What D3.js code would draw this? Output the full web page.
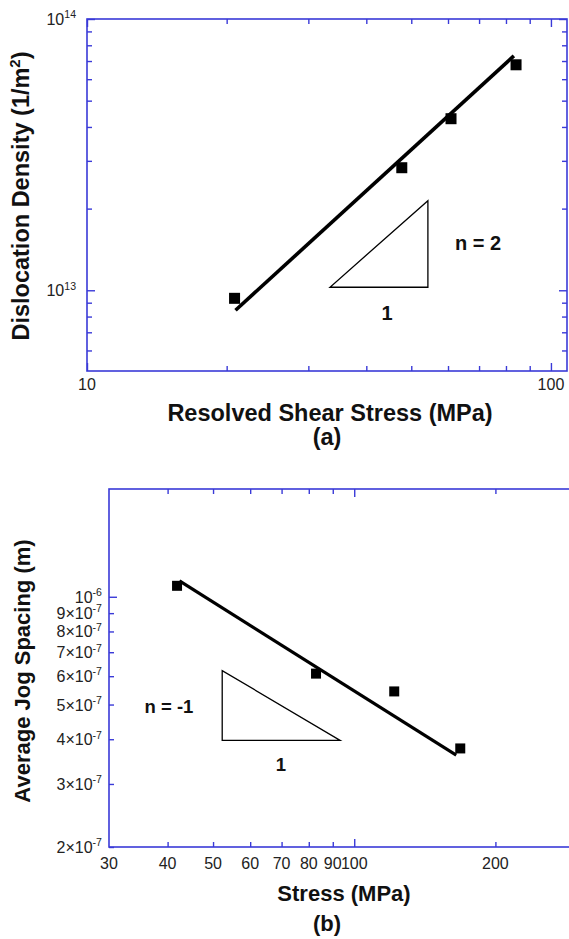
<!DOCTYPE html>
<html><head><meta charset="utf-8">
<script src="https://cdn.jsdelivr.net/npm/d3@7"></script>
<style>
html,body{margin:0;padding:0;background:#fff;}
svg{display:block;font-family:"Liberation Sans",Arial,Helvetica,sans-serif;}
</style></head><body>
<svg id="fig" width="569" height="939"></svg>
<script>
// ---- Panel (a): dislocation density vs resolved shear stress ----
const stressA = [20.8, 47.7, 60.9, 84.1];
const densityA = [9.34e12, 2.83e13, 4.29e13, 6.78e13];
const fitStressA = [20.9, 83.2];
const fitDensityA = [8.44e12, 7.31e13];
const triStressA = [33.4, 54.3];
const triDensityA = [1.026e13, 2.14e13];
const xMajorA = [10, 100];
const xMinorA = [20, 30, 40, 50, 60, 70, 80, 90];
const yMajorA = [1e13, 1e14];
const yMinorA = [6e12, 7e12, 8e12, 9e12, 2e13, 3e13, 4e13, 5e13, 6e13, 7e13, 8e13, 9e13];
const xLabelsA = ["10", "100"];
const yLabelsA = [["10", "13"], ["10", "14"]];

// ---- Panel (b): average jog spacing vs stress ----
const stressB = [41.9, 82.9, 121.7, 168.3];
const spacingB = [1.073e-6, 6.10e-7, 5.44e-7, 3.77e-7];
const fitStressB = [42.4, 165];
const fitSpacingB = [1.108e-6, 3.61e-7];
const triStressB = [52.3, 93.3];
const triSpacingB = [3.97e-7, 6.22e-7];
const xMajorB = [100];
const xMinorB = [40, 50, 60, 70, 80, 90, 200];
const xLabelB = [30, 40, 50, 60, 70, 80, 90, 100, 200];
const yMajorB = [1e-6];
const yMinorB = [2e-7, 3e-7, 4e-7, 5e-7, 6e-7, 7e-7, 8e-7, 9e-7];
const yLabelB = [
  [2e-7, "2\u00d710", "-7"], [3e-7, "3\u00d710", "-7"], [4e-7, "4\u00d710", "-7"],
  [5e-7, "5\u00d710", "-7"], [6e-7, "6\u00d710", "-7"], [7e-7, "7\u00d710", "-7"],
  [8e-7, "8\u00d710", "-7"], [9e-7, "9\u00d710", "-7"], [1e-6, "10", "-6"]
];

const AXIS = "#3a3ad8";
const svg = d3.select("#fig");

function frame(g, x, y, xMaj, xMin, yMaj, yMin) {
  const [x0, x1] = x.range(), [y0, y1] = y.range();
  const put = (axis, tx, ty) => {
    const a = g.append("g").attr("transform", `translate(${tx},${ty})`).call(axis);
    a.select(".domain").remove();
    a.selectAll("line").attr("stroke", AXIS).attr("stroke-width", 1.4);
    a.selectAll("text").remove();
  };
  [[xMaj, 8], [xMin, 5]].forEach(([v, s]) => {
    put(d3.axisBottom(x).tickValues(v).tickSize(-s), 0, y0);
    put(d3.axisTop(x).tickValues(v).tickSize(-s), 0, y1);
  });
  [[yMaj, 8], [yMin, 5]].forEach(([v, s]) => {
    put(d3.axisLeft(y).tickValues(v).tickSize(-s), x0, 0);
    put(d3.axisRight(y).tickValues(v).tickSize(-s), x1, 0);
  });
  g.append("rect").attr("x", x0).attr("y", y1).attr("width", x1 - x0).attr("height", y0 - y1)
    .attr("fill", "none").attr("stroke", AXIS).attr("stroke-width", 1.6);
}

function supLabel(g, xx, yy, base, sup, anchor, size) {
  const t = g.append("text").attr("x", xx).attr("y", yy).attr("text-anchor", anchor)
    .attr("font-size", size).attr("fill", "#222");
  t.append("tspan").text(base);
  t.append("tspan").attr("font-size", size * 0.66).attr("dy", -size * 0.42).text(sup);
}

function bold(g, xx, yy, size, txt) {
  return g.append("text").attr("x", xx).attr("y", yy).attr("text-anchor", "middle")
    .attr("font-size", size).attr("font-weight", "bold").attr("fill", "#111").text(txt);
}

// ---------- Panel (a) ----------
{
  const x = d3.scaleLog().domain([10, 108.3]).range([87, 567]);
  const y = d3.scaleLog().domain([5.04e12, 1e14]).range([371, 19]);
  const g = svg.append("g");
  frame(g, x, y, xMajorA, xMinorA, yMajorA, yMinorA);

  g.append("line")
    .attr("x1", x(fitStressA[0])).attr("y1", y(fitDensityA[0]))
    .attr("x2", x(fitStressA[1])).attr("y2", y(fitDensityA[1]))
    .attr("stroke", "#000").attr("stroke-width", 3.6);

  g.selectAll("rect.pt").data(stressA).join("rect").attr("class", "pt")
    .attr("x", (d) => x(d) - 5.5).attr("y", (d, i) => y(densityA[i]) - 5.5)
    .attr("width", 11).attr("height", 11).attr("fill", "#000");

  const tri = [[triStressA[0], triDensityA[0]], [triStressA[1], triDensityA[0]], [triStressA[1], triDensityA[1]]];
  g.append("path").attr("d", d3.line().x((d) => x(d[0])).y((d) => y(d[1]))(tri) + "Z")
    .attr("fill", "none").attr("stroke", "#000").attr("stroke-width", 1.3);

  bold(g, 478, 250, 20, "n = 2");
  bold(g, 387, 320, 20, "1");

  xMajorA.forEach((v, i) => {
    g.append("text").attr("x", x(v)).attr("y", 390).attr("text-anchor", "middle")
      .attr("font-size", 16).attr("fill", "#222").text(xLabelsA[i]);
  });
  yMajorA.forEach((v, i) => supLabel(g, 76, y(v) + 6, yLabelsA[i][0], yLabelsA[i][1], "end", 16));

  bold(g, 330, 421, 23.5, "Resolved Shear Stress (MPa)");
  bold(g, 327, 445, 23.5, "(a)");

  const yt = g.append("text").attr("transform", "translate(29,196) rotate(-90)")
    .attr("text-anchor", "middle").attr("font-size", 23.5).attr("font-weight", "bold").attr("fill", "#111");
  yt.append("tspan").text("Dislocation Density (1/m");
  yt.append("tspan").attr("font-size", 15).attr("dy", -9).text("2");
  yt.append("tspan").attr("dy", 9).text(")");
}

// ---------- Panel (b) ----------
{
  const x = d3.scaleLog().domain([30, 300]).range([109, 578]);
  const y = d3.scaleLog().domain([2e-7, 2e-6]).range([847, 489]);
  const g = svg.append("g");
  frame(g, x, y, xMajorB, xMinorB, yMajorB, yMinorB);

  g.append("line")
    .attr("x1", x(fitStressB[0])).attr("y1", y(fitSpacingB[0]))
    .attr("x2", x(fitStressB[1])).attr("y2", y(fitSpacingB[1]))
    .attr("stroke", "#000").attr("stroke-width", 3.2);

  g.selectAll("rect.pt").data(stressB).join("rect").attr("class", "pt")
    .attr("x", (d) => x(d) - 5).attr("y", (d, i) => y(spacingB[i]) - 5)
    .attr("width", 10).attr("height", 10).attr("fill", "#000");

  const tri = [[triStressB[0], triSpacingB[1]], [triStressB[0], triSpacingB[0]], [triStressB[1], triSpacingB[0]]];
  g.append("path").attr("d", d3.line().x((d) => x(d[0])).y((d) => y(d[1]))(tri) + "Z")
    .attr("fill", "none").attr("stroke", "#000").attr("stroke-width", 1.3);

  bold(g, 169, 713, 18.5, "n = -1");
  bold(g, 281, 771, 18.5, "1");

  xLabelB.forEach((v) => {
    g.append("text").attr("x", x(v)).attr("y", 869).attr("text-anchor", "middle")
      .attr("font-size", 16).attr("fill", "#222").text(v);
  });
  yLabelB.forEach(([v, b, s]) => supLabel(g, 102, y(v) + 6, b, s, "end", 16));

  bold(g, 344, 901, 22, "Stress (MPa)");
  bold(g, 327, 931, 22, "(b)");

  g.append("text").attr("transform", "translate(30,671) rotate(-90)")
    .attr("text-anchor", "middle").attr("font-size", 22).attr("font-weight", "bold").attr("fill", "#111")
    .text("Average Jog Spacing (m)");
}
</script>
</body></html>
